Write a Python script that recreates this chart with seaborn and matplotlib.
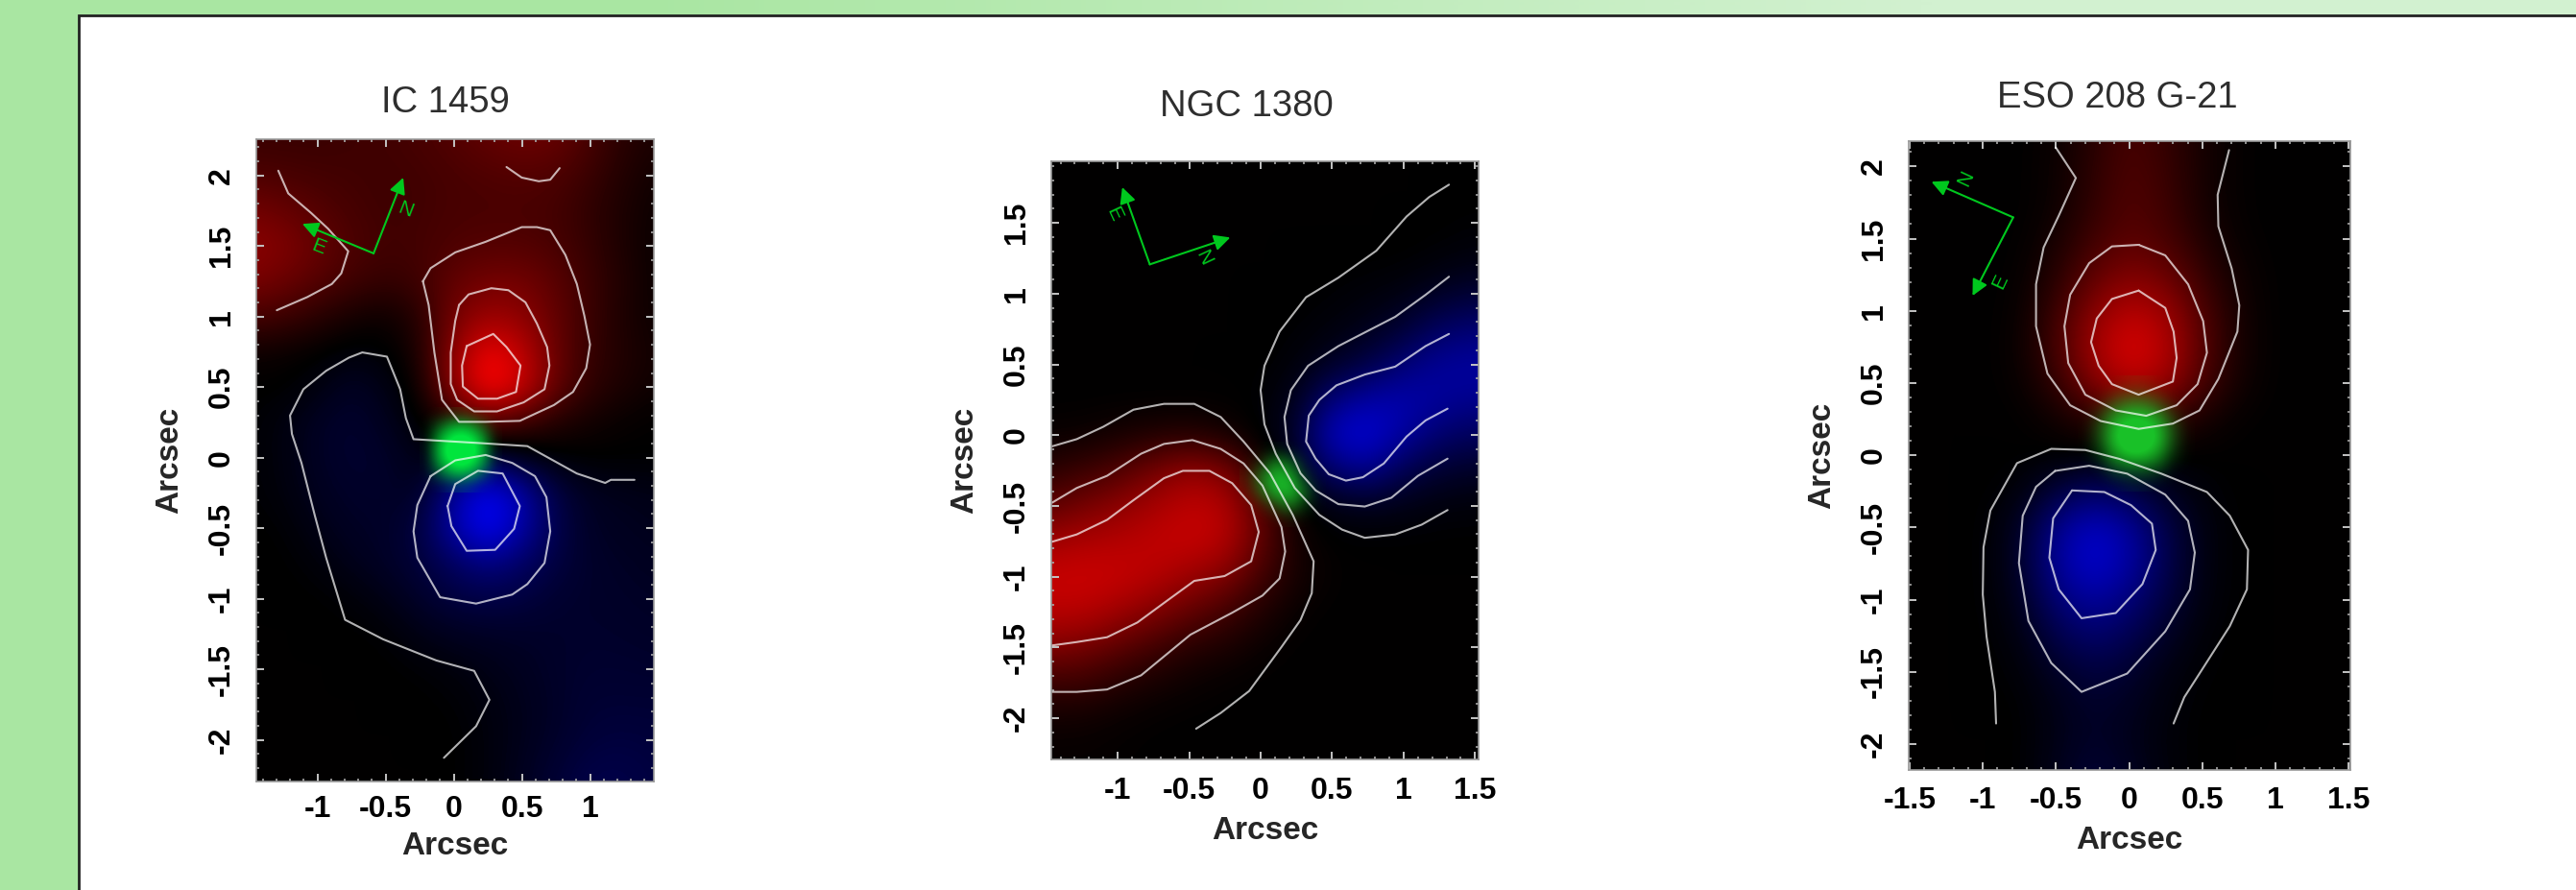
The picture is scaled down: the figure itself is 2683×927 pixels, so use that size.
import numpy as np
import matplotlib
matplotlib.use('Agg')
import matplotlib.pyplot as plt
from matplotlib.colors import LinearSegmentedColormap
from matplotlib.patches import Rectangle
from matplotlib.ticker import MultipleLocator
import seaborn as sns

# titles and tick labels
titles = ['IC 1459', 'NGC 1380', 'ESO 208 G-21']
axis_label = 'Arcsec'
ic_xticks = [-1, -0.5, 0, 0.5, 1]
ngc_xticks = [-1, -0.5, 0, 0.5, 1, 1.5]
eso_xticks = [-1.5, -1, -0.5, 0, 0.5, 1, 1.5]
ic_yticks = [-2, -1.5, -1, -0.5, 0, 0.5, 1, 1.5, 2]
ngc_yticks = [-2, -1.5, -1, -0.5, 0, 0.5, 1, 1.5]
eso_yticks = [-2, -1.5, -1, -0.5, 0, 0.5, 1, 1.5, 2]

# velocity maps, in percent: red positive, blue negative
map_x = [-1.5, -1.25, -1, -0.75, -0.5, -0.25, 0, 0.25, 0.5, 0.75, 1, 1.25, 1.5]
ic_map_y = [2.25, 2, 1.75, 1.5, 1.25, 1, 0.75, 0.5, 0.25, 0, -0.25, -0.5, -0.75, -1, -1.25, -1.5, -1.75, -2, -2.25]
ic_map = [
    [22, 22, 22, 24, 25, 28, 32, 38, 42, 40, 28, 15, 10],
    [30, 28, 26, 25, 24, 25, 28, 30, 32, 30, 22, 12, 6],
    [45, 40, 33, 27, 24, 25, 28, 28, 28, 26, 18, 10, 4],
    [55, 50, 40, 30, 25, 26, 30, 32, 32, 28, 20, 10, 3],
    [48, 42, 33, 25, 20, 24, 38, 45, 45, 35, 22, 12, 3],
    [28, 24, 16, 8, 4, 14, 45, 60, 55, 38, 22, 10, 4],
    [5, 3, 0, -4, -2, 10, 55, 96, 75, 40, 20, 12, 6],
    [0, 0, -5, -15, -8, 4, 58, 105, 82, 38, 18, 10, 5],
    [-1, -5, -14, -18, -12, -1, 10, 30, 22, 12, 6, 2, 0],
    [-1, -5, -14, -18, -16, -8, -4, -20, -8, -2, 0, 0, 0],
    [-1, -4, -12, -16, -16, -12, -62, -98, -66, -25, -12, -10, -8],
    [0, -1, -8, -14, -15, -24, -66, -100, -66, -28, -14, -12, -10],
    [0, 0, -3, -10, -15, -22, -36, -50, -38, -24, -16, -14, -12],
    [0, 0, 0, -2, -8, -16, -24, -27, -24, -18, -16, -15, -14],
    [0, 0, 0, 0, -1, -8, -12, -14, -15, -16, -17, -16, -15],
    [0, 0, 0, 0, 0, -1, -4, -8, -12, -16, -18, -18, -17],
    [0, 0, 0, 0, 0, 0, -1, -5, -10, -15, -20, -20, -20],
    [0, 0, 0, 0, 0, 0, 0, -4, -10, -16, -22, -24, -22],
    [0, 0, 0, 0, 0, 0, 0, -4, -12, -20, -28, -28, -24],
]
ngc_map_y = [2, 1.75, 1.5, 1.25, 1, 0.75, 0.5, 0.25, 0, -0.25, -0.5, -0.75, -1, -1.25, -1.5, -1.75, -2, -2.25]
ngc_map = [
    [0, 0, 0, 0, 0, 0, 0, 0, 0, 0, 0, 0, 0],
    [0, 0, 0, 0, 0, 0, 0, 0, 0, 0, 0, 0, 0],
    [0, 0, 0, 0, 0, 0, 0, 0, 0, 0, 0, 0, -1],
    [0, 0, 0, 0, 0, 0, 0, 0, 0, 0, 0, -2, -5],
    [0, 0, 0, 0, 0, 0, 0, 0, -1, -3, -6, -14, -20],
    [0, 0, 0, 0, 0, 0, 0, -1, -4, -10, -20, -38, -45],
    [0, 0, 0, 0, 0, 0, 0, -3, -14, -26, -46, -60, -62],
    [0, 0, 0, 0, 0, 0, -1, -10, -48, -65, -68, -60, -55],
    [3, 4, 8, 12, 14, 8, -1, -16, -78, -85, -62, -42, -35],
    [15, 22, 30, 45, 58, 50, 12, -8, -42, -55, -30, -18, -14],
    [35, 45, 55, 65, 75, 72, 35, 2, -6, -10, -7, -4, -3],
    [62, 68, 70, 75, 78, 72, 38, 6, 0, 0, 0, 0, 0],
    [78, 80, 78, 72, 60, 50, 25, 8, 1, 0, 0, 0, 0],
    [72, 72, 62, 50, 38, 25, 12, 2, 0, 0, 0, 0, 0],
    [50, 46, 35, 25, 14, 10, 3, 0, 0, 0, 0, 0, 0],
    [22, 22, 14, 8, 4, 1, 0, 0, 0, 0, 0, 0, 0],
    [6, 6, 3, 1, 0, 0, 0, 0, 0, 0, 0, 0, 0],
    [2, 2, 1, 0, 0, 0, 0, 0, 0, 0, 0, 0, 0],
]
eso_map_y = [2.25, 2, 1.75, 1.5, 1.25, 1, 0.75, 0.5, 0.25, 0, -0.25, -0.5, -0.75, -1, -1.25, -1.5, -1.75, -2, -2.25]
eso_map = [
    [0, 0, 0, 0, 3, 14, 28, 20, 8, 1, 0, 0, 0],
    [0, 0, 0, 0, 4, 16, 30, 22, 8, 1, 0, 0, 0],
    [0, 0, 0, 0, 4, 18, 32, 24, 8, 1, 0, 0, 0],
    [0, 0, 0, 0, 8, 24, 35, 28, 12, 2, 0, 0, 0],
    [0, 0, 0, 1, 14, 36, 50, 42, 20, 5, 0, 0, 0],
    [0, 0, 0, 2, 22, 52, 72, 62, 30, 7, 0, 0, 0],
    [0, 0, 0, 3, 26, 62, 88, 72, 34, 8, 0, 0, 0],
    [0, 0, 0, 2, 18, 50, 72, 62, 28, 6, 0, 0, 0],
    [0, 0, 0, 0, 5, 14, 22, 18, 8, 1, 0, 0, 0],
    [0, 0, 0, 0, 0, 0, 0, 0, 0, 0, 0, 0, 0],
    [0, 0, 0, -3, -22, -38, -28, -12, -3, 0, 0, 0, 0],
    [0, 0, 0, -12, -55, -78, -62, -28, -6, 0, 0, 0, 0],
    [0, 0, 0, -14, -60, -82, -65, -30, -6, 0, 0, 0, 0],
    [0, 0, 0, -10, -45, -62, -48, -24, -5, 0, 0, 0, 0],
    [0, 0, 0, -5, -28, -42, -32, -14, -2, 0, 0, 0, 0],
    [0, 0, 0, -2, -14, -24, -18, -6, -1, 0, 0, 0, 0],
    [0, 0, 0, 0, -8, -16, -12, -4, 0, 0, 0, 0, 0],
    [0, 0, 0, 0, -8, -16, -10, -3, 0, 0, 0, 0, 0],
    [0, 0, 0, 0, -10, -22, -14, -4, 0, 0, 0, 0, 0],
]

# green central blobs
ic_green_x = [-0.2, -0.1, 0, 0.1, 0.2, 0.3]
ic_green_y = [0.3, 0.2, 0.1, 0, -0.1, -0.2]
ic_green = [
    [0, 0, 8, 8, 0, 0],
    [0, 45, 85, 85, 45, 0],
    [0, 85, 120, 120, 85, 0],
    [0, 85, 125, 125, 85, 0],
    [0, 45, 85, 85, 45, 0],
    [0, 0, 12, 12, 0, 0],
]
ngc_green_x = [-0.1, 0, 0.1, 0.2, 0.3, 0.4]
ngc_green_y = [-0.1, -0.2, -0.3, -0.4, -0.5, -0.6]
ngc_green = [
    [0, 0, 3, 0, 0, 0],
    [0, 15, 70, 50, 5, 0],
    [8, 60, 105, 95, 20, 0],
    [3, 45, 95, 105, 55, 0],
    [0, 5, 30, 60, 20, 0],
    [0, 0, 0, 3, 0, 0],
]
eso_green_x = [-0.3, -0.2, -0.1, 0, 0.1, 0.2, 0.3, 0.4]
eso_green_y = [0.5, 0.4, 0.3, 0.2, 0.1, 0, -0.1, -0.2]
eso_green = [
    [0, 0, 0, 8, 8, 0, 0, 0],
    [0, 0, 20, 35, 35, 20, 0, 0],
    [0, 15, 60, 85, 85, 60, 15, 0],
    [0, 35, 95, 115, 115, 95, 35, 0],
    [0, 35, 100, 120, 120, 100, 35, 0],
    [0, 20, 75, 100, 100, 75, 20, 0],
    [0, 0, 28, 40, 40, 28, 0, 0],
    [0, 0, 0, 6, 6, 0, 0, 0],
]

# contour lines
ic_contours = [
    [(-1.287, 2.034), (-1.214, 1.873), (-1.047, 1.735), (-0.922, 1.623), (-0.774, 1.463), (-0.825, 1.306),
     (-0.894, 1.231), (-1.075, 1.138), (-1.298, 1.045)],
    [(0.387, 2.06), (0.499, 1.985), (0.624, 1.959), (0.708, 1.97), (0.777, 2.052)],
    [(-0.226, 1.25), (-0.17, 1.343), (0.011, 1.455), (0.234, 1.53), (0.499, 1.634), (0.61, 1.634), (0.708, 1.612),
     (0.819, 1.437), (0.903, 1.231), (0.958, 1.007), (1.0, 0.802), (0.972, 0.634), (0.875, 0.466), (0.735, 0.373),
     (0.485, 0.261), (0.234, 0.254), (0.039, 0.254), (-0.086, 0.41), (-0.142, 0.746), (-0.184, 1.082), (-0.226, 1.25)],
    [(0.039, 1.082), (0.109, 1.157), (0.276, 1.201), (0.401, 1.187), (0.526, 1.101), (0.61, 0.951), (0.685, 0.784),
     (0.702, 0.653), (0.666, 0.485), (0.513, 0.392), (0.318, 0.328), (0.15, 0.328), (0.025, 0.41), (-0.022, 0.522),
     (-0.022, 0.746), (0.011, 0.97), (0.039, 1.082)],
    [(0.095, 0.791), (0.29, 0.877), (0.387, 0.784), (0.49, 0.653), (0.457, 0.466), (0.318, 0.418), (0.178, 0.418),
     (0.067, 0.504), (0.061, 0.653), (0.095, 0.791)],
    [(1.326, -0.157), (1.153, -0.157), (1.111, -0.179), (0.903, -0.112), (0.54, 0.082), (0.234, 0.101), (-0.295, 0.131),
     (-0.351, 0.28), (-0.393, 0.485), (-0.49, 0.716), (-0.671, 0.746), (-0.769, 0.709), (-0.936, 0.616), (-1.103, 0.485),
     (-1.201, 0.299), (-1.187, 0.168), (-1.117, -0.037), (-1.019, -0.41), (-0.936, -0.709), (-0.797, -1.149),
     (-0.518, -1.287), (-0.128, -1.437), (0.15, -1.511), (0.262, -1.716), (0.164, -1.903), (-0.072, -2.127)],
    [(-0.17, -0.131), (0.011, -0.019), (0.234, 0.019), (0.429, -0.037), (0.596, -0.131), (0.68, -0.28), (0.708, -0.522),
     (0.666, -0.746), (0.54, -0.896), (0.429, -0.97), (0.164, -1.034), (-0.1, -0.989), (-0.267, -0.709), (-0.295, -0.522),
     (-0.267, -0.336), (-0.17, -0.131)],
    [(-0.045, -0.343), (0.011, -0.187), (0.178, -0.093), (0.359, -0.112), (0.485, -0.343), (0.443, -0.504), (0.304, -0.653),
     (0.095, -0.66), (-0.017, -0.485), (-0.045, -0.343)],
]
ngc_contours = [
    [(1.318, 1.769), (1.18, 1.682), (1.021, 1.544), (0.809, 1.302), (0.544, 1.112), (0.318, 0.974), (0.133, 0.732),
     (0.027, 0.49), (0, 0.318), (0.027, 0.076), (0.106, -0.131), (0.239, -0.373), (0.411, -0.563), (0.57, -0.667),
     (0.729, -0.725), (0.942, -0.701), (1.127, -0.632), (1.308, -0.529)],
    [(1.318, 1.119), (1.154, 0.991), (0.942, 0.836), (0.544, 0.629), (0.332, 0.49), (0.212, 0.318), (0.167, 0.128),
     (0.186, -0.062), (0.279, -0.269), (0.385, -0.39), (0.544, -0.487), (0.729, -0.504), (0.915, -0.442), (1.101, -0.287),
     (1.308, -0.166)],
    [(1.318, 0.715), (1.154, 0.629), (0.942, 0.484), (0.729, 0.428), (0.531, 0.352), (0.411, 0.249), (0.337, 0.138),
     (0.318, -0.045), (0.385, -0.166), (0.477, -0.276), (0.597, -0.321), (0.716, -0.297), (0.862, -0.2), (1.021, -0.01),
     (1.154, 0.104), (1.308, 0.187)],
    [(-1.459, -0.079), (-1.286, -0.028), (-1.101, 0.059), (-0.889, 0.18), (-0.676, 0.221), (-0.464, 0.221), (-0.279, 0.128),
     (-0.119, -0.045), (0.066, -0.269), (0.225, -0.563), (0.371, -0.891), (0.358, -1.116), (0.279, -1.306), (0.146, -1.496),
     (-0.08, -1.807), (-0.279, -1.962), (-0.451, -2.073)],
    [(-1.459, -0.477), (-1.286, -0.373), (-1.074, -0.287), (-0.836, -0.131), (-0.676, -0.062), (-0.477, -0.035),
     (-0.279, -0.097), (-0.119, -0.2), (0.013, -0.356), (0.146, -0.649), (0.172, -0.822), (0.133, -1.012), (0.013, -1.133),
     (-0.199, -1.254), (-0.491, -1.409), (-0.836, -1.696), (-1.074, -1.796), (-1.286, -1.813), (-1.459, -1.813)],
    [(-1.459, -0.753), (-1.286, -0.701), (-1.074, -0.598), (-0.889, -0.459), (-0.676, -0.304), (-0.544, -0.252),
     (-0.358, -0.252), (-0.199, -0.339), (-0.066, -0.494), (-0.013, -0.684), (-0.066, -0.891), (-0.252, -0.995),
     (-0.464, -1.029), (-0.676, -1.185), (-0.862, -1.323), (-1.074, -1.427), (-1.286, -1.461), (-1.459, -1.485)],
]
eso_contours = [
    [(-0.501, 2.131), (-0.364, 1.92), (-0.481, 1.658), (-0.584, 1.439), (-0.636, 1.184), (-0.636, 0.893), (-0.558, 0.565),
     (-0.403, 0.346), (-0.195, 0.237), (0.065, 0.182), (0.299, 0.219), (0.481, 0.31), (0.61, 0.528), (0.74, 0.856),
     (0.753, 1.038), (0.701, 1.293), (0.61, 1.585), (0.605, 1.803), (0.683, 2.113)],
    [(0.065, 1.457), (0.247, 1.384), (0.403, 1.184), (0.506, 0.929), (0.532, 0.71), (0.468, 0.492), (0.325, 0.346),
     (0.117, 0.273), (-0.091, 0.31), (-0.299, 0.419), (-0.416, 0.638), (-0.442, 0.893), (-0.403, 1.111), (-0.273, 1.33),
     (-0.117, 1.446), (0.065, 1.457)],
    [(0.065, 1.14), (0.247, 1.02), (0.304, 0.856), (0.325, 0.674), (0.299, 0.51), (0.065, 0.419), (-0.117, 0.492),
     (-0.208, 0.619), (-0.26, 0.783), (-0.221, 0.947), (-0.117, 1.082), (0.065, 1.14)],
    [(-0.909, -1.858), (-0.917, -1.639), (-0.974, -1.257), (-1.0, -0.965), (-0.995, -0.638), (-0.948, -0.383), (-0.766, -0.055),
     (-0.532, 0.044), (-0.299, 0.036), (-0.065, -0.026), (0.221, -0.128), (0.532, -0.255), (0.688, -0.419), (0.813, -0.656),
     (0.805, -0.929), (0.688, -1.184), (0.481, -1.512), (0.377, -1.676), (0.304, -1.858)],
    [(-0.506, -0.109), (-0.273, -0.073), (-0.013, -0.128), (0.247, -0.273), (0.403, -0.455), (0.449, -0.674), (0.416, -0.929),
     (0.247, -1.22), (-0.013, -1.512), (-0.325, -1.639), (-0.532, -1.439), (-0.688, -1.148), (-0.753, -0.747), (-0.727, -0.419),
     (-0.636, -0.219), (-0.506, -0.109)],
    [(-0.39, -0.244), (-0.169, -0.255), (0.013, -0.346), (0.156, -0.474), (0.182, -0.656), (0.091, -0.893), (-0.091, -1.093),
     (-0.325, -1.129), (-0.481, -0.929), (-0.545, -0.71), (-0.519, -0.437), (-0.39, -0.244)],
]

# compass arrows: corner, north tip, east tip, north label, east label, letter rotation
ic_compass = [(-0.588, 1.448), (-0.37, 1.985), (-1.111, 1.657), (-0.357, 1.754), (-0.992, 1.493), -21]
ngc_compass = [(-0.775, 1.206), (-0.212, 1.396), (-0.968, 1.751), (-0.398, 1.25), (-1.029, 1.561), -65]
eso_compass = [(-0.792, 1.647), (-1.351, 1.894), (-1.07, 1.104), (-1.117, 1.92), (-0.883, 1.202), 65]

sns.set_style('white')
plt.rcParams['font.family'] = ['Liberation Sans', 'DejaVu Sans']

W, H = 2683, 927
fig = plt.figure(figsize=(W / 100, H / 100), dpi=100)

# green page behind the white sheet
bg_ax = fig.add_axes([0, 0, 1, 1], zorder=0)
bg_cmap = LinearSegmentedColormap.from_list('page', ['#a9e6a2', '#d2f1d0'])
bg_ax.imshow([[0, 1]], cmap=bg_cmap, aspect='auto', interpolation='bilinear', extent=[0, W, H, 0])
bg_ax.add_patch(Rectangle((82, 16), W, H, facecolor='white', edgecolor='#222222', lw=2))
bg_ax.set_xlim(0, W)
bg_ax.set_ylim(H, 0)
bg_ax.axis('off')

velocity_cmap = sns.blend_palette(['#0000ff', '#000000', '#ff0000'], n_colors=256, as_cmap=True)


def green_cmap(rgb):
    return LinearSegmentedColormap.from_list('g', [rgb + (0.0,), rgb + (1.0,)])


def cell_extent(xs, ys):
    dx = abs(xs[1] - xs[0]) / 2
    dy = abs(ys[1] - ys[0]) / 2
    return [xs[0] - dx, xs[-1] + dx, ys[-1] - dy, ys[0] + dy]


def draw_panel(box, xlim, ylim, title, title_x, title_y, vmap, vmap_y, green, green_x, green_y, green_rgb,
               contours, compass, xticks, yticks, xtick_gap, xlabel_gap):
    left, top, right, bottom = box
    ax = fig.add_axes([left / W, 1 - bottom / H, (right - left) / W, (bottom - top) / H], zorder=1)
    ax.imshow(np.array(vmap), cmap=velocity_cmap, vmin=-100, vmax=100, aspect='auto',
              interpolation='bicubic', extent=cell_extent(map_x, vmap_y))
    ax.imshow(np.array(green), cmap=green_cmap(green_rgb), vmin=0, vmax=100, aspect='auto',
              interpolation='bicubic', extent=cell_extent(green_x, green_y))

    for line in contours:
        xs, ys = zip(*line)
        sns.lineplot(x=list(xs), y=list(ys), sort=False, estimator=None, color='white', alpha=0.7, lw=1.5, ax=ax)

    corner, north, east, north_pos, east_pos, letter_rot = compass
    for tip in (north, east):
        ax.annotate('', xy=tip, xytext=corner,
                    arrowprops=dict(arrowstyle='-|>', color='#00c81e', lw=1.5, mutation_scale=25, shrinkA=0, shrinkB=0))
    ax.text(*north_pos, 'N', color='#00c81e', fontsize=15, rotation=letter_rot, ha='center', va='center')
    ax.text(*east_pos, 'E', color='#00c81e', fontsize=15, rotation=letter_rot, ha='center', va='center')

    ax.set_xlim(xlim)
    ax.set_ylim(ylim)
    ax.set_xticks(xticks, labels=[f'{t:g}' for t in xticks])
    ax.set_yticks(yticks, labels=[f'{t:g}' for t in yticks])
    ax.xaxis.set_minor_locator(MultipleLocator(0.1))
    ax.yaxis.set_minor_locator(MultipleLocator(0.1))
    ax.tick_params(which='major', direction='in', top=True, right=True, bottom=True, left=True,
                   length=5.5, width=1.4, color='#c4c4c4', labelsize=23, labelcolor='black')
    ax.tick_params(which='minor', direction='in', top=True, right=True, bottom=True, left=True,
                   length=2.5, width=1.2, color='#a8a8a8')
    ax.tick_params(axis='x', which='major', pad=xtick_gap)
    ax.tick_params(axis='y', which='major', pad=15)
    for lab in ax.get_xticklabels() + ax.get_yticklabels():
        lab.set_fontweight('bold')
    for lab in ax.get_yticklabels():
        lab.set_rotation(90)
        lab.set_va('center')
    for sp in ax.spines.values():
        sp.set_color('#9a9a9a')
        sp.set_linewidth(1.2)

    ax.set_xlabel(axis_label, fontsize=24, fontweight='bold', va='center')
    ax.set_ylabel(axis_label, fontsize=24, fontweight='bold', va='center')
    ax.xaxis.set_label_coords(0.5, -xlabel_gap / (bottom - top))
    ax.yaxis.set_label_coords(-90 / (right - left), 0.5)
    ax.set_title(title, fontsize=27.5, color='#2e2e2e', va='center',
                 x=(title_x - left) / (right - left), y=1 + (top - title_y) / (bottom - top))
    return ax


draw_panel((267, 145, 681, 814), (-1.448, 1.468), (-2.295, 2.257), titles[0], 464, 115,
           ic_map, ic_map_y, ic_green, ic_green_x, ic_green_y, (0.0, 0.9, 0.24),
           ic_contours, ic_compass, ic_xticks, ic_yticks, 10, 68)
draw_panel((1095, 168, 1540, 791), (-1.464, 1.525), (-2.29, 1.934), titles[1], 1298, 119,
           ngc_map, ngc_map_y, ngc_green, ngc_green_x, ngc_green_y, (0.1, 0.72, 0.16),
           ngc_contours, ngc_compass, ngc_xticks, ngc_yticks, 13, 74)
draw_panel((1988, 147, 2448, 802), (-1.506, 1.512), (-2.18, 2.175), titles[2], 2205, 110,
           eso_map, eso_map_y, eso_green, eso_green_x, eso_green_y, (0.1, 0.76, 0.16),
           eso_contours, eso_compass, eso_xticks, eso_yticks, 12, 73)

fig.savefig('out.png', dpi=100)
